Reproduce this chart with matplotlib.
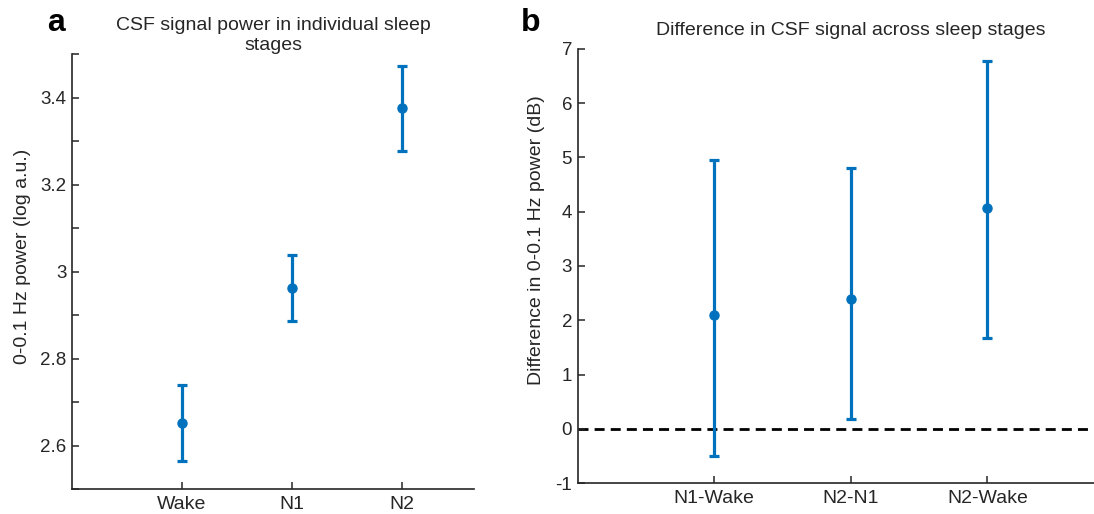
import matplotlib
matplotlib.use('Agg')
import matplotlib.pyplot as plt

# valores
estagios = ['Wake', 'N1', 'N2']
potencia_media = [2.652, 2.962, 3.375]
potencia_sup = [2.740, 3.038, 3.473]
potencia_inf = [2.565, 2.886, 3.277]

comparacoes = ['N1-Wake', 'N2-N1', 'N2-Wake']
dif_media = [2.10, 2.40, 4.06]
dif_sup = [4.95, 4.81, 6.78]
dif_inf = [-0.50, 0.18, 1.68]

azul = '#0072BD'
cinza = '#262626'

plt.rcParams['font.family'] = ['Liberation Sans', 'DejaVu Sans']
plt.rcParams['axes.unicode_minus'] = False
plt.rcParams['text.color'] = cinza
plt.rcParams['axes.labelcolor'] = cinza
plt.rcParams['xtick.color'] = cinza
plt.rcParams['ytick.color'] = cinza

fig = plt.figure(figsize=(10.94, 5.14), dpi=100)
ax1 = fig.add_axes([0.0658, 0.0486, 0.3675, 0.8463])
ax2 = fig.add_axes([0.528, 0.0603, 0.4994, 0.8444])


def estilo(ax):
    ax.spines['top'].set_visible(False)
    ax.spines['right'].set_visible(False)
    for s in ['left', 'bottom']:
        ax.spines[s].set_color(cinza)
        ax.spines[s].set_linewidth(1.2)
    ax.tick_params(which='both', direction='in', length=5, width=1.1,
                   labelsize=13.5, pad=4)
    ax.tick_params(axis='x', labelsize=14, pad=5)


# painel a
x1 = list(range(1, len(estagios) + 1))
erro1 = [[m - i for m, i in zip(potencia_media, potencia_inf)],
         [s - m for m, s in zip(potencia_media, potencia_sup)]]
ax1.errorbar(x1, potencia_media, yerr=erro1, fmt='o', color=azul, ms=6.5,
             elinewidth=2.3, capsize=3.5, capthick=2.3)
ax1.set_xlim(0, 3.66)
ax1.set_ylim(2.5, 3.5)
ax1.set_xticks(x1)
ax1.set_xticklabels(estagios)
ax1.set_yticks([2.6, 2.8, 3.0, 3.2, 3.4])
ax1.set_yticklabels(['2.6', '2.8', '3', '3.2', '3.4'])
ax1.set_yticks([2.5, 2.7, 2.9, 3.1, 3.3, 3.5], minor=True)
estilo(ax1)
ax1.set_ylabel('0-0.1 Hz power (log a.u.)', fontsize=14)
ax1.yaxis.set_label_coords(-0.103, 0.535)
ax1.set_title('CSF signal power in individual sleep\nstages', fontsize=14,
              pad=3, linespacing=1.25)

# painel b
x2 = list(range(1, len(comparacoes) + 1))
erro2 = [[m - i for m, i in zip(dif_media, dif_inf)],
         [s - m for m, s in zip(dif_media, dif_sup)]]
ax2.axhline(0, color='black', lw=2, ls=(0, (3.6, 2.2)), zorder=1)
ax2.errorbar(x2, dif_media, yerr=erro2, fmt='o', color=azul, ms=6.5,
             elinewidth=2.3, capsize=3.5, capthick=2.3, zorder=3)
ax2.set_xlim(0, 4)
ax2.set_ylim(-1, 7)
ax2.set_xticks(x2)
ax2.set_xticklabels(comparacoes)
ax2.set_yticks(range(-1, 8))
estilo(ax2)
ax2.set_ylabel('Difference in 0-0.1 Hz power (dB)', fontsize=14)
ax2.yaxis.set_label_coords(-0.060, 0.56)
ax2.set_title('Difference in CSF signal across sleep stages', fontsize=14, pad=10)

fig.text(0.043, 0.94, 'a', fontsize=23, fontweight='bold', color='black')
fig.text(0.476, 0.94, 'b', fontsize=23, fontweight='bold', color='black')

plt.savefig('out.png', dpi=100)
